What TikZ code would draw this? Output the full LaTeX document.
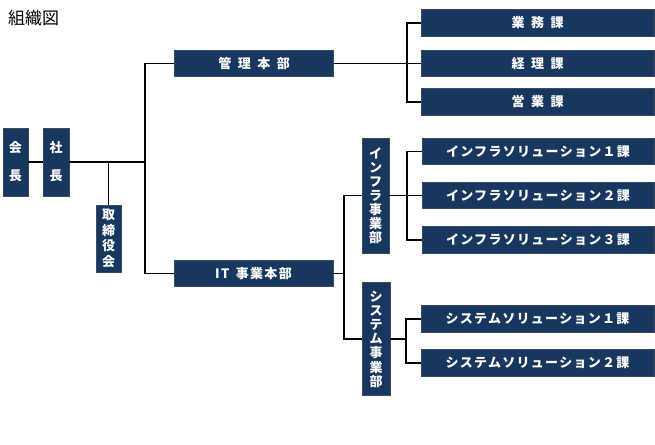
\documentclass[tikz,border=0pt]{standalone}
\usepackage{fontspec}
\newfontfamily\jp{Noto Sans CJK JP}
\newfontfamily\jpsp[LetterSpace=10]{Noto Sans CJK JP}
\definecolor{navy}{RGB}{23,55,94}
\definecolor{boxline}{RGB}{60,75,95}
\tikzset{
  box/.style={draw=boxline, fill=navy, line width=0.8pt, text=white, inner sep=0pt},
  hbox/.style={box, minimum height=26.5pt, font=\jpsp\bfseries\fontsize{13}{15}\selectfont},
  vbox/.style={box, align=center},
  conn/.style={line width=1.9pt, draw=black}
}
\newcommand{\gap}{\hspace{6.5pt}}
\begin{document}
\begin{tikzpicture}[x=1pt,y=-1pt]
\useasboundingbox (0,0) rectangle (655,444);
\node[anchor=base west, font=\jp\fontsize{17}{19}\selectfont, inner sep=0pt] (title) at (8,24.5) {組織図};
% left column
\node[vbox, minimum width=25pt, minimum height=68pt, font=\jp\bfseries\fontsize{13}{28}\selectfont] (kaicho) at (15.5,162) {会\\長};
\node[vbox, minimum width=26pt, minimum height=68pt, font=\jp\bfseries\fontsize{13}{28}\selectfont] (shacho) at (56,162) {社\\長};
\node[vbox, minimum width=25pt, minimum height=67pt, font=\jp\bfseries\fontsize{13}{15.5}\selectfont] (tori) at (108.5,238.5) {取\\締\\役\\会};
% headquarters
\node[hbox, minimum width=159pt] (kanri) at (254,63.5) {管\gap 理\gap 本\gap 部};
\node[hbox, minimum width=159pt] (it) at (253.5,273.5) {IT\gap 事業本部};
% sections under kanri
\node[hbox, minimum width=233pt] (gyomu) at (537.5,23) {業\gap 務\gap 課};
\node[hbox, minimum width=233pt] (keiri) at (537.5,63.5) {経\gap 理\gap 課};
\node[hbox, minimum width=233pt] (eigyo) at (537.5,102) {営\gap 業\gap 課};
% divisions
\node[vbox, minimum width=27pt, minimum height=115pt, font=\jp\bfseries\fontsize{13}{14}\selectfont] (infra) at (375.5,195.5) {イ\\ン\\フ\\ラ\\事\\業\\部};
\node[vbox, minimum width=28pt, minimum height=113pt, font=\jp\bfseries\fontsize{13}{14.2}\selectfont] (sys) at (376,339) {シ\\ス\\テ\\ム\\事\\業\\部};
% infra sections
\node[hbox, minimum width=232pt] (inf1) at (538,151.5) {インフラソリューション１課};
\node[hbox, minimum width=232pt] (inf2) at (538,195.5) {インフラソリューション２課};
\node[hbox, minimum width=232pt] (inf3) at (538,240) {インフラソリューション３課};
% system sections
\node[hbox, minimum width=233pt] (sys1) at (537.5,319) {システムソリューション１課};
\node[hbox, minimum width=233pt] (sys2) at (537.5,363) {システムソリューション２課};
% junctions
\coordinate (j1) at (145,162);
\coordinate (j2) at (407,63.5);
\coordinate (j3) at (344,273.5);
\coordinate (j4) at (407,195.5);
\coordinate (j5) at (406,339);
% connectors
\draw[conn] (kaicho) -- (shacho);
\draw[conn] (shacho.east) -- (j1);
\draw[conn] (kanri.west) -| (j1) |- (it.west);
\draw[conn] (tori.north) -- (tori.north |- j1);
\draw[conn] (kanri.east) -- (j2) -- (keiri.west);
\draw[conn] (gyomu.west) -| (j2) |- (eigyo.west);
\draw[conn] (it.east) -- (j3);
\draw[conn] (infra.west) -| (j3) |- (sys.west);
\draw[conn] (infra.east) -- (inf2.west);
\draw[conn] (inf1.west) -| (j4) |- (inf3.west);
\draw[conn] (sys.east) -- (j5);
\draw[conn] (sys1.west) -| (j5) |- (sys2.west);
\end{tikzpicture}
\end{document}
